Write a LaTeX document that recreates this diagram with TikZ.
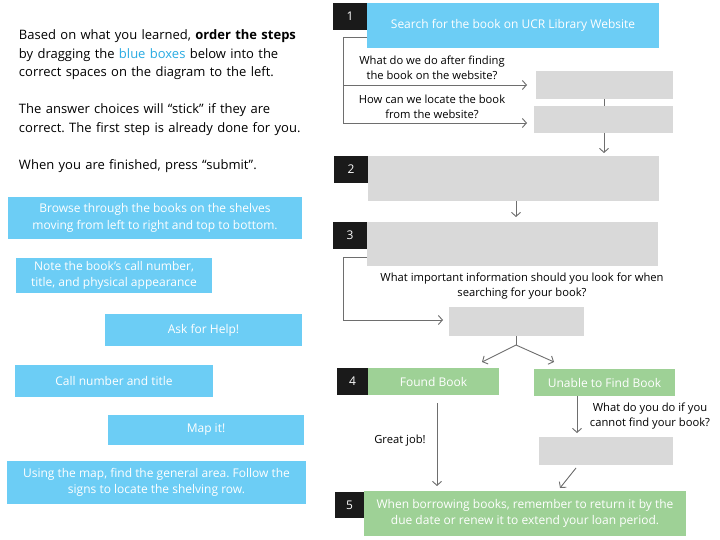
\documentclass[tikz,border=0pt]{standalone}
\usepackage{fontspec}
\setmainfont{Open Sans}
\usetikzlibrary{arrows.meta}
\definecolor{skyb}{RGB}{108,205,245}
\definecolor{leaf}{RGB}{158,209,150}
\definecolor{grayb}{RGB}{217,217,217}
\definecolor{blackb}{RGB}{26,26,26}
\definecolor{linkb}{RGB}{41,171,226}
\definecolor{conn}{RGB}{110,110,110}
\begin{document}
\frenchspacing
\begin{tikzpicture}[x=1pt,y=-1pt,
  every node/.style={inner sep=0pt, outer sep=0pt},
  numbox/.style={fill=blackb, text=white, font=\fontsize{12}{14}\selectfont, minimum width=34pt, minimum height=27pt},
  bluebox/.style={fill=skyb, text=white, align=center, font=\fontsize{12}{16.5}\selectfont, inner ysep=0pt},
  greenbox/.style={fill=leaf, text=white, align=center, font=\fontsize{12}{16.5}\selectfont},
  graybox/.style={fill=grayb},
  lbl/.style={align=center, text=black, font=\fontsize{11.2}{15}\selectfont},
  wire/.style={draw=conn, line width=0.9pt},
  arr/.style={wire, -{Straight Barb[length=4pt,width=9pt]}}
]
\useasboundingbox (0,0) rectangle (720,540);
\fill[white] (0,0) rectangle (720,540);

% instructions
\node[anchor=north west, text width=315pt, align=left, font=\fontsize{13}{18.5}\selectfont] (intro) at (19,30)
 {Based on what you learned, \textbf{order the steps}\\
  by dragging the \textcolor{linkb}{blue boxes} below into the\\
  correct spaces on the diagram to the left.\\[18.5pt]
  The answer choices will “stick” if they are\\
  correct. The first step is already done for you.\\[18.5pt]
  When you are finished, press “submit”.};

% answer choices
\node[bluebox, minimum width=294pt, minimum height=42pt] (c1) at (155,218) {Browse through the books on the shelves\\moving from left to right and top to bottom.};
\node[bluebox, minimum width=196pt, minimum height=35pt] (c2) at (114,275.5) {Note the book’s call number,\\title, and physical appearance};
\node[bluebox, minimum width=197pt, minimum height=32pt] (c3) at (203.5,330) {Ask for Help!};
\node[bluebox, minimum width=198pt, minimum height=32pt] (c4) at (114,381) {Call number and title};
\node[bluebox, minimum width=196pt, minimum height=30pt] (c5) at (206,430) {Map it!};
\node[bluebox, minimum width=299pt, minimum height=43pt] (c6) at (156.5,482.5) {Using the map, find the general area. Follow the\\signs to locate the shelving row.};

% diagram
\node[numbox] (n1) at (350,16.5) {1};
\node[bluebox, minimum width=292pt, minimum height=45pt] (s1) at (513,25.5) {Search for the book on UCR Library Website};
\node[graybox, minimum width=137pt, minimum height=28pt] (ga) at (604.5,85) {};
\node[graybox, minimum width=139pt, minimum height=27pt] (gb) at (603.5,119.5) {};
\node[numbox] (n2) at (351,169.5) {2};
\node[graybox, minimum width=291pt, minimum height=45pt] (g2) at (513.5,178.5) {};
\node[numbox] (n3) at (350,235.5) {3};
\node[graybox, minimum width=291pt, minimum height=44pt] (g3) at (512.5,244) {};
\node[graybox, minimum width=135pt, minimum height=29pt] (g4) at (516.5,321.5) {};
\node[numbox, minimum width=31pt] (n4) at (352.5,381.5) {4};
\node[greenbox, minimum width=131pt, minimum height=27pt] (found) at (433.5,381.5) {Found Book};
\node[greenbox, minimum width=141pt, minimum height=27pt] (unable) at (604.5,382.5) {Unable to Find Book};
\node[graybox, minimum width=134pt, minimum height=28pt] (g5) at (606,451) {};
\node[numbox, minimum width=29pt, minimum height=26pt] (n5) at (349.5,505) {5};
\node[greenbox, minimum width=322pt, minimum height=45pt] (fin) at (525,513.5) {When borrowing books, remember to return it by the\\due date or renew it to extend your loan period.};

% labels
\node[lbl] (l1) at (432,67.5) {What do we do after finding\\the book on the website?};
\node[lbl] (l2) at (432,106.5) {How can we locate the book\\from the website?};
\node[lbl] (l3) at (522,286) {What important information should you look for when\\searching for your book?};
\node[lbl] (l4) at (400,441) {Great job!};
\node[lbl] (l5) at (650,416.5) {What do you do if you\\cannot find your book?};

% connectors
\coordinate (s1o) at (367,37);
\coordinate (k1) at (343,37);
\coordinate (t1) at (527,85);
\coordinate (t2) at (527,123);
\draw[wire] (s1o) -- (k1) -- (k1 |- t2);
\draw[arr] (k1 |- t1) -- (t1);
\draw[arr] (k1 |- t2) -- (t2);
\draw[wire] (ga.south) -- (ga.south |- gb.north);
\draw[arr, shorten >=3pt] (gb.south -| 604,0) -- (604,156);
\draw[arr, shorten >=5pt] (g2.south -| 516,0) -- (516,222);
\coordinate (g3o) at (367,257);
\coordinate (k3) at (343,257);
\coordinate (t3) at (443,320);
\draw[arr] (g3o) -- (k3) |- (t3);
\coordinate (apex) at (516,345);
\coordinate (fl) at (482,362);
\coordinate (fr) at (554,362);
\draw[wire] (g4.south -| apex) -- (apex);
\draw[arr] (apex) -- (fl);
\draw[arr] (apex) -- (fr);
\coordinate (fs) at (437,403);
\coordinate (fe) at (437,486);
\draw[arr] (fs) -- (fe);
\coordinate (us) at (577,396);
\coordinate (ue) at (577,433);
\draw[arr] (us) -- (ue);
\coordinate (gs) at (576,468);
\coordinate (ge) at (560,488);
\draw[arr] (gs) -- (ge);
\end{tikzpicture}
\end{document}
